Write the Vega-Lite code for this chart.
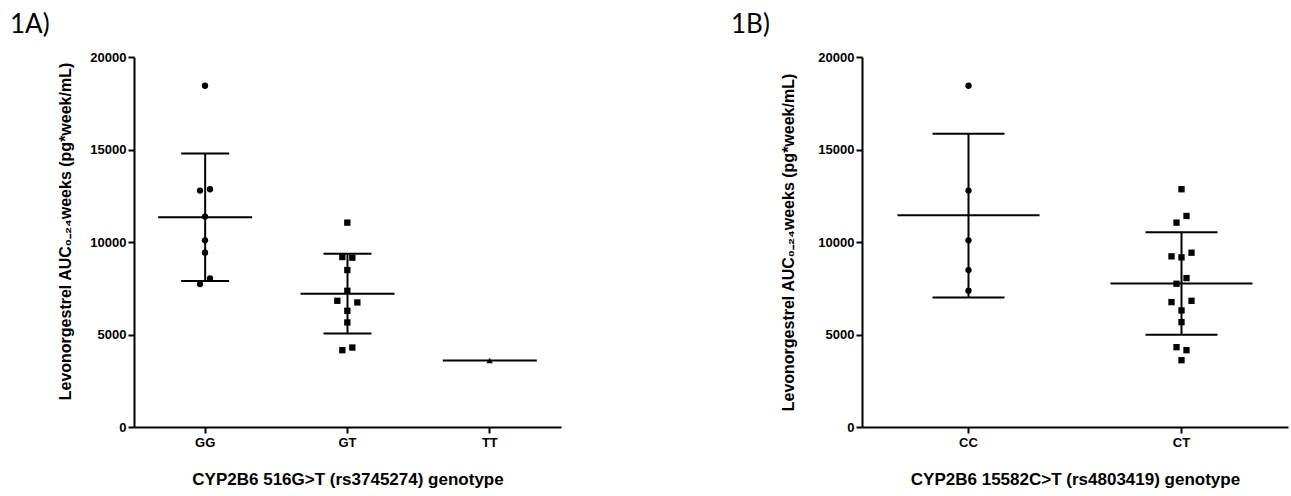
{
  "$schema": "https://vega.github.io/schema/vega-lite/v6.json",
  "background": "white",
  "padding": {"left": 10, "top": 12, "right": 2, "bottom": 2},
  "datasets": {
    "points_a": [
      {"genotype": "GG", "auc": 18447, "k": 0},
      {"genotype": "GG", "auc": 12780, "k": -1},
      {"genotype": "GG", "auc": 12852, "k": 1},
      {"genotype": "GG", "auc": 11372, "k": 0},
      {"genotype": "GG", "auc": 10090, "k": 0},
      {"genotype": "GG", "auc": 9422, "k": 0},
      {"genotype": "GG", "auc": 8032, "k": 1},
      {"genotype": "GG", "auc": 7725, "k": -1},
      {"genotype": "GT", "auc": 11047, "k": 0},
      {"genotype": "GT", "auc": 9188, "k": -1},
      {"genotype": "GT", "auc": 9151, "k": 1},
      {"genotype": "GT", "auc": 8484, "k": 0},
      {"genotype": "GT", "auc": 7364, "k": 0},
      {"genotype": "GT", "auc": 6823, "k": -2},
      {"genotype": "GT", "auc": 6733, "k": 2},
      {"genotype": "GT", "auc": 6281, "k": 0},
      {"genotype": "GT", "auc": 5650, "k": 0},
      {"genotype": "GT", "auc": 4296, "k": 1},
      {"genotype": "GT", "auc": 4152, "k": -1},
      {"genotype": "TT", "auc": 3592, "k": 0}
    ],
    "summary_a": [
      {"genotype": "GG", "mean": 11335, "lo": 7888, "hi": 14783},
      {"genotype": "GT", "mean": 7202, "lo": 5054, "hi": 9368},
      {"genotype": "TT", "mean": 3592, "lo": null, "hi": null}
    ],
    "points_b": [
      {"genotype": "CC", "auc": 18447, "k": 0},
      {"genotype": "CC", "auc": 12780, "k": 0},
      {"genotype": "CC", "auc": 10090, "k": 0},
      {"genotype": "CC", "auc": 8484, "k": 0},
      {"genotype": "CC", "auc": 7364, "k": 0},
      {"genotype": "CT", "auc": 12852, "k": 0},
      {"genotype": "CT", "auc": 11408, "k": 1},
      {"genotype": "CT", "auc": 11047, "k": -1},
      {"genotype": "CT", "auc": 9422, "k": 2},
      {"genotype": "CT", "auc": 9224, "k": -2},
      {"genotype": "CT", "auc": 9169, "k": 0},
      {"genotype": "CT", "auc": 8050, "k": 1},
      {"genotype": "CT", "auc": 7743, "k": -1},
      {"genotype": "CT", "auc": 6823, "k": 2},
      {"genotype": "CT", "auc": 6751, "k": -2},
      {"genotype": "CT", "auc": 6300, "k": 0},
      {"genotype": "CT", "auc": 5668, "k": 0},
      {"genotype": "CT", "auc": 4314, "k": -1},
      {"genotype": "CT", "auc": 4152, "k": 1},
      {"genotype": "CT", "auc": 3610, "k": 0}
    ],
    "summary_b": [
      {"genotype": "CC", "mean": 11444, "lo": 7003, "hi": 15848},
      {"genotype": "CT", "mean": 7761, "lo": 4982, "hi": 10523}
    ]
  },
  "config": {
    "view": {"stroke": null},
    "axis": {
      "grid": false,
      "domainColor": "black",
      "domainWidth": 2,
      "tickColor": "black",
      "tickWidth": 2,
      "tickSize": 6,
      "labelFont": "Liberation Sans",
      "labelFontWeight": "bold",
      "labelFontSize": 13,
      "labelColor": "black",
      "titleFont": "Liberation Sans",
      "titleFontWeight": "bold",
      "titleColor": "black"
    },
    "axisX": {"labelAngle": 0, "labelPadding": 3, "titlePadding": 22, "titleFontSize": 17},
    "axisY": {"labelPadding": 2, "titleFontSize": 16}
  },
  "resolve": {"scale": {"xOffset": "independent", "x": "independent", "y": "independent", "shape": "independent"}},
  "spacing": 170,
  "hconcat": [
    {
      "width": 427,
      "height": 370,
      "title": {"text": "1A)", "anchor": "start", "frame": "group", "dx": -124, "offset": 13, "font": "Lato", "fontSize": 26, "fontWeight": "normal", "color": "black"},
      "encoding": {
        "x": {
          "field": "genotype", "type": "nominal", "sort": ["GG", "GT", "TT"],
          "scale": {"type": "band", "paddingInner": 0, "paddingOuter": 0},
          "axis": {"title": "CYP2B6 516G>T (rs3745274) genotype"}
        }
      },
      "layer": [
        {
          "data": {"name": "points_a"},
          "mark": {"type": "point", "filled": true, "opacity": 1, "color": "black", "size": 40},
          "encoding": {
            "xOffset": {"field": "k", "type": "quantitative", "scale": {"domain": [-14.2, 14.2], "range": [0, 142]}},
            "y": {"field": "auc", "type": "quantitative", "scale": {"domain": [0, 20000], "nice": false},
                  "axis": {"values": [0, 5000, 10000, 15000, 20000], "format": "d", "titlePadding": 16, "titleY": 174, "title": "Levonorgestrel AUC₀₋₂₄weeks (pg*week/mL)"}},
            "shape": {"field": "genotype", "type": "nominal", "scale": {"domain": ["GG", "GT", "TT"], "range": ["circle", "square", "triangle-up"]}, "legend": null}
          }
        },
        {
          "data": {"name": "summary_a"},
          "mark": {"type": "rule", "color": "black", "strokeWidth": 2},
          "encoding": {"y": {"field": "lo", "type": "quantitative"}, "y2": {"field": "hi"}}
        },
        {
          "data": {"name": "summary_a"},
          "mark": {"type": "tick", "color": "black", "size": 94, "thickness": 2, "opacity": 1},
          "encoding": {"y": {"field": "mean", "type": "quantitative"}}
        },
        {
          "data": {"name": "summary_a"},
          "mark": {"type": "tick", "color": "black", "size": 48, "thickness": 2, "opacity": 1},
          "encoding": {"y": {"field": "lo", "type": "quantitative"}}
        },
        {
          "data": {"name": "summary_a"},
          "mark": {"type": "tick", "color": "black", "size": 48, "thickness": 2, "opacity": 1},
          "encoding": {"y": {"field": "hi", "type": "quantitative"}}
        }
      ]
    },
    {
      "width": 426,
      "height": 370,
      "title": {"text": "1B)", "anchor": "start", "frame": "group", "dx": -131, "offset": 13, "font": "Lato", "fontSize": 26, "fontWeight": "normal", "color": "black"},
      "encoding": {
        "x": {
          "field": "genotype", "type": "nominal", "sort": ["CC", "CT"],
          "scale": {"type": "band", "paddingInner": 0, "paddingOuter": 0},
          "axis": {"title": "CYP2B6 15582C>T (rs4803419) genotype"}
        }
      },
      "layer": [
        {
          "data": {"name": "points_b"},
          "mark": {"type": "point", "filled": true, "opacity": 1, "color": "black", "size": 40},
          "encoding": {
            "xOffset": {"field": "k", "type": "quantitative", "scale": {"domain": [-21.3, 21.3], "range": [0, 213]}},
            "y": {"field": "auc", "type": "quantitative", "scale": {"domain": [0, 20000], "nice": false},
                  "axis": {"values": [0, 5000, 10000, 15000, 20000], "format": "d", "titlePadding": 21, "title": "Levonorgestrel AUC₀₋₂₄weeks (pg*week/mL)"}},
            "shape": {"field": "genotype", "type": "nominal", "scale": {"domain": ["CC", "CT"], "range": ["circle", "square"]}, "legend": null}
          }
        },
        {
          "data": {"name": "summary_b"},
          "mark": {"type": "rule", "color": "black", "strokeWidth": 2},
          "encoding": {"y": {"field": "lo", "type": "quantitative"}, "y2": {"field": "hi"}}
        },
        {
          "data": {"name": "summary_b"},
          "mark": {"type": "tick", "color": "black", "size": 142, "thickness": 2, "opacity": 1},
          "encoding": {"y": {"field": "mean", "type": "quantitative"}}
        },
        {
          "data": {"name": "summary_b"},
          "mark": {"type": "tick", "color": "black", "size": 72, "thickness": 2, "opacity": 1},
          "encoding": {"y": {"field": "lo", "type": "quantitative"}}
        },
        {
          "data": {"name": "summary_b"},
          "mark": {"type": "tick", "color": "black", "size": 72, "thickness": 2, "opacity": 1},
          "encoding": {"y": {"field": "hi", "type": "quantitative"}}
        }
      ]
    }
  ]
}
